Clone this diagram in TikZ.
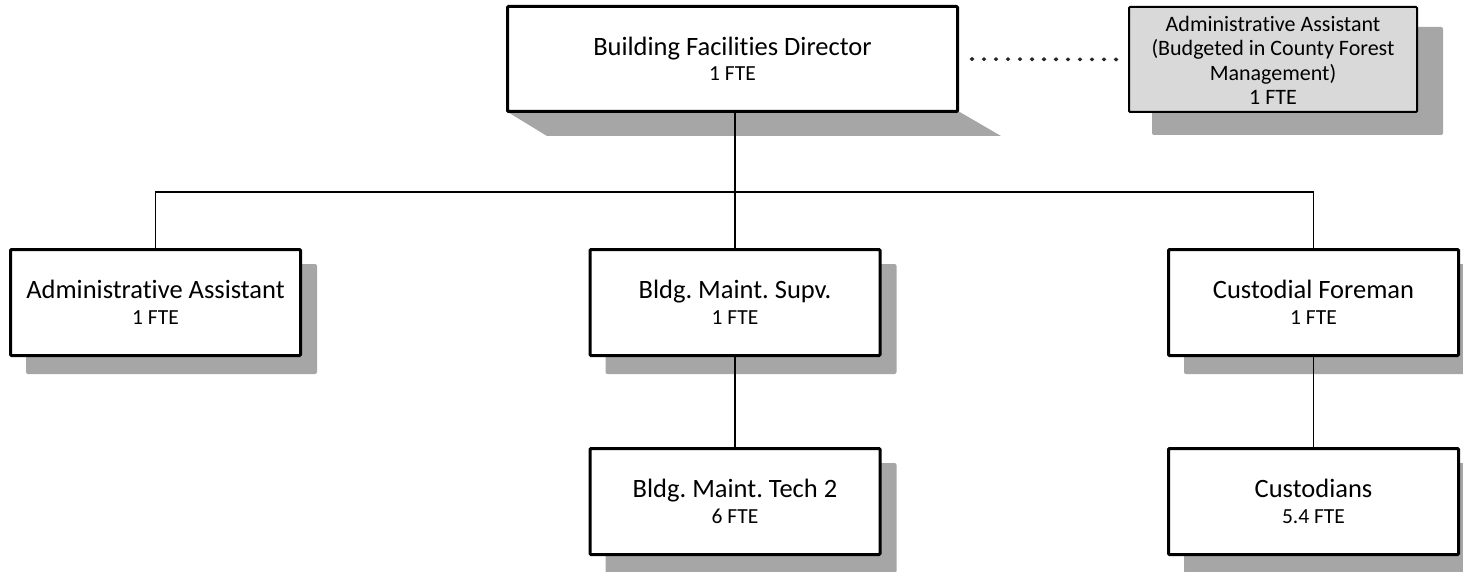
\documentclass[tikz,border=0pt]{standalone}
\usepackage{fontspec}
\setmainfont{Carlito}[Ligatures={NoCommon}]
\begin{document}
\frenchspacing
\begin{tikzpicture}[x=1pt,y=-1pt,
  orgbox/.style={draw=black,line width=3pt,fill=white,rounded corners=1pt,minimum width=290pt,minimum height=106pt,inner sep=0pt},
  maintext/.style={anchor=base,inner sep=0pt,font=\fontsize{26.5}{30}\selectfont},
  subtext/.style={anchor=base,inner sep=0pt,font=\fontsize{21.5}{24}\selectfont},
  conn/.style={draw=black,line width=1.5pt},
  dotline/.style={draw=dotgray,line width=3.6pt,line cap=round,dash pattern=on 1pt off 11pt}
]
\definecolor{shadowgray}{RGB}{166,166,166}
\definecolor{greyfill}{RGB}{217,217,217}
\definecolor{dotgray}{RGB}{40,40,40}
\useasboundingbox (0,0) rectangle (1463,572);

% shadows
\fill[shadowgray] (506,111) -- (547,136) -- (1001,136) -- (958,111) -- cycle;
\fill[shadowgray,rounded corners=2pt] (1152,27) rectangle (1443,135);
\foreach \cx/\cy in {155.5/302.5, 735/302.5, 1313.5/302.5, 735/501.5, 1313.5/501.5}
  \fill[shadowgray,rounded corners=2pt] (\cx-145.5+16,\cy-54.5+16) rectangle (\cx+145.5+16,\cy+54.5+17);

% boxes
\node[orgbox,minimum width=450pt,minimum height=105pt] (bfd) at (732.5,59) {};
\node[orgbox,fill=greyfill,line width=2pt,minimum width=288pt,minimum height=105pt] (aafm) at (1273,59.5) {};
\node[orgbox] (aa) at (155.5,302.5) {};
\node[orgbox] (bms) at (735,302.5) {};
\node[orgbox] (cf) at (1313.5,302.5) {};
\node[orgbox] (bmt) at (735,501.5) {};
\node[orgbox] (cu) at (1313.5,501.5) {};

% texts
\node[maintext] (bfd-t) at ([yshift=3pt]bfd.center) {Building Facilities Director};
\node[subtext] (bfd-s) at ([yshift=-22pt]bfd.center) {1 FTE};
\node[align=center,inner sep=0pt,font=\fontsize{22}{24.5}\selectfont] (aafm-t) at ([yshift=-1pt]aafm.center)
  {Administrative Assistant\\(Budgeted in County Forest\\Management)\\1 FTE};
\node[maintext] (aa-t) at ([yshift=4pt]aa.center) {Administrative Assistant};
\node[subtext] (aa-s) at ([yshift=-21.5pt]aa.center) {1 FTE};
\node[maintext] (bms-t) at ([yshift=4pt]bms.center) {Bldg. Maint. Supv.};
\node[subtext] (bms-s) at ([yshift=-21.5pt]bms.center) {1 FTE};
\node[maintext] (cf-t) at ([yshift=4pt]cf.center) {Custodial Foreman};
\node[subtext] (cf-s) at ([yshift=-21.5pt]cf.center) {1 FTE};
\node[maintext] (bmt-t) at ([yshift=4pt]bmt.center) {Bldg. Maint. Tech 2};
\node[subtext] (bmt-s) at ([yshift=-21.5pt]bmt.center) {6 FTE};
\node[maintext] (cu-t) at ([yshift=4pt]cu.center) {Custodians};
\node[subtext] (cu-s) at ([yshift=-21.5pt]cu.center) {5.4 FTE};

% connectors
\coordinate (bar) at (735,192);
\draw[conn] (bms.north |- bfd.south) -- (bms.north);
\draw[conn] (aa.north) |- (bar) -| (cf.north);
\draw[conn] (bms.south) -- (bmt.north);
\draw[conn] (cf.south) -- (cu.north);
\draw[dotline,shorten <=12.5pt,shorten >=10.5pt] (bfd.east) -- (aafm.west);
\end{tikzpicture}
\end{document}
